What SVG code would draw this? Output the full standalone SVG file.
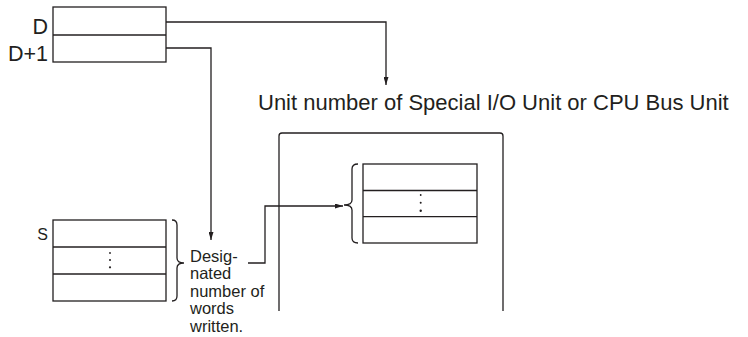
<svg xmlns="http://www.w3.org/2000/svg" width="748" height="337" viewBox="0 0 748 337">
<style>
.ln{fill:none;stroke:#231f20;stroke-width:1.3}
.bx{fill:#fff;stroke:#231f20;stroke-width:1.3}
.t{font-family:"Liberation Sans",Arial,sans-serif;fill:#231f20}
.dot{fill:#231f20}
</style>
<defs>
<marker id="ah" viewBox="0 0 8 5" refX="8" refY="2.5" markerWidth="8" markerHeight="5" markerUnits="userSpaceOnUse" orient="auto">
<path d="M0,0 L8,2.5 L0,5 Z" fill="#231f20"/>
</marker>
</defs>
<g id="connectors">
<path class="ln" d="M166,22 H386 V85" marker-end="url(#ah)"/>
<path class="ln" d="M166,48 H211 V240" marker-end="url(#ah)"/>
<path class="ln" d="M248,263 H265 V206 H343" marker-end="url(#ah)"/>
</g>
<g id="D-words">
<rect class="bx" x="53" y="7" width="113" height="55"/>
<line class="ln" x1="53" y1="35" x2="166" y2="35"/>
<text class="t" x="48" y="33.5" font-size="21.5" text-anchor="end">D</text>
<text class="t" x="48" y="61" font-size="21.5" text-anchor="end">D+1</text>
</g>
<g id="unit-label">
<text class="t" x="258" y="110" font-size="22">Unit number of Special I/O Unit or CPU Bus Unit</text>
</g>
<g id="S-words">
<rect class="bx" x="53" y="220" width="113" height="81"/>
<line class="ln" x1="53" y1="247" x2="166" y2="247"/>
<line class="ln" x1="53" y1="274" x2="166" y2="274"/>
<circle class="dot" cx="110" cy="253" r="0.9"/>
<circle class="dot" cx="110" cy="260" r="1"/>
<circle class="dot" cx="110" cy="267.3" r="1.1"/>
<text class="t" x="48" y="239.5" font-size="16" text-anchor="end">S</text>
<path class="ln" d="M172,220 Q177,220 177,225 V258 Q177,263 184,263 Q177,263 177,268 V296 Q177,301 172,301"/>
</g>
<g id="designated-label">
<text class="t" font-size="16.5"><tspan x="190" y="261.5">Desig-</tspan><tspan x="190" y="279.2">nated</tspan><tspan x="190" y="296.8">number of</tspan><tspan x="190" y="314.4">words</tspan><tspan x="190" y="332">written.</tspan></text>
</g>
<g id="unit">
<path class="ln" d="M279,311 V136 Q279,133 282,133 H500 Q503,133 503,136 V311"/>
<rect class="bx" x="363" y="164" width="114" height="79"/>
<line class="ln" x1="363" y1="190.5" x2="477" y2="190.5"/>
<line class="ln" x1="363" y1="216.7" x2="477" y2="216.7"/>
<circle class="dot" cx="420.7" cy="195" r="0.9"/>
<circle class="dot" cx="420.7" cy="202.7" r="1"/>
<circle class="dot" cx="420.7" cy="210.7" r="1.2"/>
<path class="ln" d="M358,164 Q352,164 352,169 V200 Q352,205 344,205 Q352,205 352,210 V238 Q352,243 358,243"/>
</g>
</svg>
